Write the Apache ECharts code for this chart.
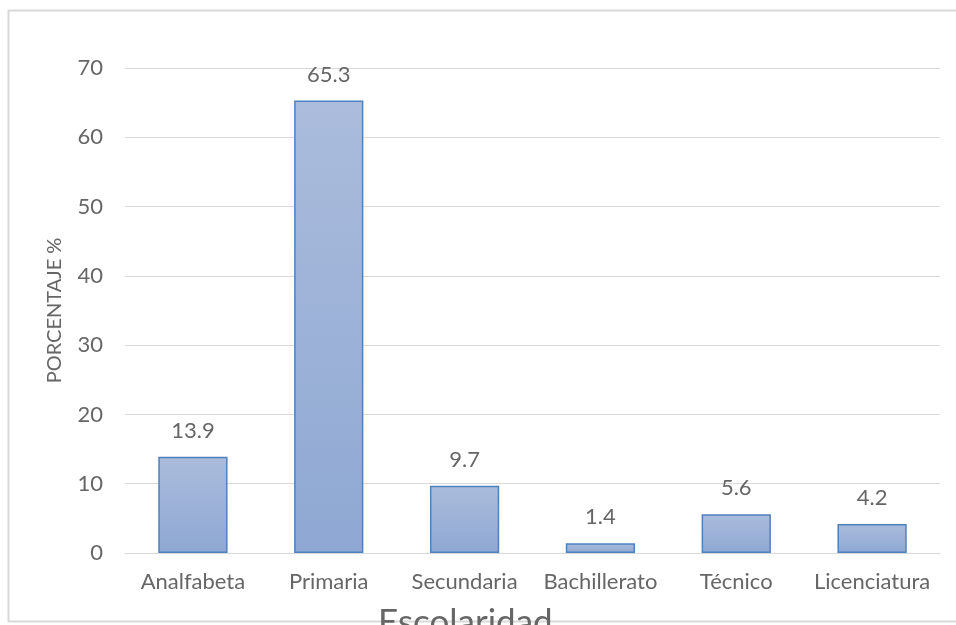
<!DOCTYPE html>
<html>
<head>
<meta charset="utf-8">
<script src="https://cdn.jsdelivr.net/npm/echarts@6/dist/echarts.min.js"></script>
<style>
html,body{margin:0;padding:0;background:#fff;}
#chart{width:956px;height:625px;}
</style>
</head>
<body>
<div id="chart"></div>
<script>
var categories = ["Analfabeta","Primaria","Secundaria","Bachillerato","Técnico","Licenciatura"];
var values = [13.9, 65.3, 9.7, 1.4, 5.6, 4.2];
var yTicks = [0, 10, 20, 30, 40, 50, 60, 70];

var font = "Lato";
var textColor = '#666666';
var myChart = echarts.init(document.getElementById('chart'));
var option = {
	backgroundColor: '#ffffff',
	animation: false,
	graphic: [{
		type: 'rect',
		shape: {x: 8.5, y: 10.5, width: 1000, height: 611},
		style: {fill: 'none', stroke: '#d9d9d9', lineWidth: 2},
		silent: true
	}],
	title: {
		text: 'Escolaridad',
		left: 378,
		top: 605,
		padding: 0,
		textStyle: {fontFamily: font, fontSize: 35, fontWeight: 'normal', color: textColor}
	},
	grid: {left: 125, right: 16, top: 68, bottom: 72},
	xAxis: {
		type: 'category',
		data: categories,
		axisLine: {lineStyle: {color: '#d9d9d9', width: 1}},
		axisTick: {show: false},
		axisLabel: {interval: 0, hideOverlap: false, fontFamily: font, fontSize: 22, color: textColor, margin: 18}
	},
	yAxis: {
		type: 'value',
		min: yTicks[0],
		max: yTicks[yTicks.length - 1],
		interval: 10,
		name: 'PORCENTAJE %',
		nameLocation: 'middle',
		nameGap: 60,
		nameTextStyle: {fontFamily: font, fontSize: 20, color: textColor},
		axisLine: {show: false},
		axisTick: {show: false},
		axisLabel: {fontFamily: font, fontSize: 22, color: textColor, margin: 22},
		splitLine: {lineStyle: {color: '#d9d9d9', width: 1}}
	},
	series: [{
		type: 'bar',
		data: values,
		barWidth: '51%',
		itemStyle: {
			color: new echarts.graphic.LinearGradient(0, 0, 0, 1, [
				{offset: 0, color: '#abbcdc'},
				{offset: 1, color: '#8ea8d3'}
			]),
			borderColor: '#4f81bd',
			borderWidth: 1.5
		},
		label: {
			show: true,
			position: 'top',
			distance: 15,
			fontFamily: font,
			fontSize: 22,
			color: textColor
		}
	}]
};
myChart.setOption(option);
</script>
</body>
</html>
